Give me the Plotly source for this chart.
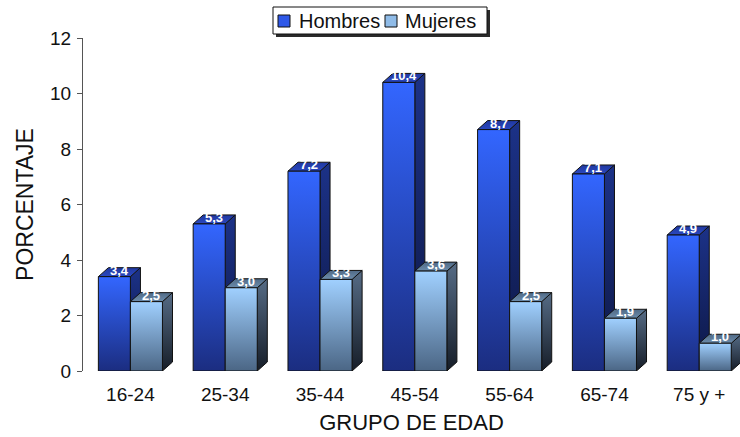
import plotly.graph_objects as go

# Porcentaje por grupo de edad y sexo
grupos = ["16-24", "25-34", "35-44", "45-54", "55-64", "65-74", "75 y +"]
hombres = [3.4, 5.3, 7.2, 10.4, 8.7, 7.1, 4.9]
mujeres = [2.5, 3.0, 3.3, 3.6, 2.5, 1.9, 1.0]
y_ticks = [0, 2, 4, 6, 8, 10, 12]
series = ["Hombres", "Mujeres"]

# pseudo-3D bar geometry (in axis units)
W = 0.338    # bar front width
DX = 0.106   # depth offset along x
DY = 0.324   # depth offset along y

styles = {
    "Hombres": dict(
        front=[[0, "#1b2d80"], [1, "#3366ff"]],
        side=[[0, "#0d1744"], [1, "#1c3288"]],
        top=[[0, "#2a48c0"], [1, "#2038a0"]],
        legend="#2e58e8",
    ),
    "Mujeres": dict(
        front=[[0, "#4b6685"], [1, "#a0d0ff"]],
        side=[[0, "#161d28"], [1, "#566c86"]],
        top=[[0, "#6c8cab"], [1, "#506a86"]],
        legend="#90bce8",
    ),
}

OUTLINE = dict(color="#111111", width=1)
FONT = "Liberation Sans, Arial"

fig = go.Figure()


def face(xs, ys, scale):
    fig.add_trace(go.Scatter(
        x=xs, y=ys, mode="lines", fill="toself",
        fillgradient=dict(type="vertical", colorscale=scale),
        line=OUTLINE, hoverinfo="skip", showlegend=False,
    ))


def draw_bar(x0, v, st):
    x1 = x0 + W
    # side face
    face([x1, x1 + DX, x1 + DX, x1, x1], [0, DY, v + DY, v, 0], st["side"])
    # top face
    face([x0, x1, x1 + DX, x0 + DX, x0], [v, v, v + DY, v + DY, v], st["top"])
    # front face
    face([x0, x1, x1, x0, x0], [0, 0, v, v, 0], st["front"])


labels = []
for i, (h, m) in enumerate(zip(hombres, mujeres)):
    draw_bar(i - W, h, styles["Hombres"])
    draw_bar(i, m, styles["Mujeres"])
    labels.append((i - W / 2 + DX / 2, h))
    labels.append((i + W / 2 + DX / 2, m))

for x, v in labels:
    fig.add_annotation(
        x=x, y=v + DY / 2, text=f"{v:.1f}".replace(".", ","),
        showarrow=False, yanchor="middle", yshift=2,
        font=dict(family=FONT, size=13, color="white", weight="bold"),
    )

# plot area in pixels
L, T = 83, 38
PW, PH = 657, 333


def px(xp):
    return (xp - L) / PW


def py(yp):
    return (T + PH - yp) / PH


# boxed legend with drop shadow
fig.add_shape(type="rect", xref="paper", yref="paper",
              x0=px(276), x1=px(490), y0=py(37), y1=py(10),
              fillcolor="#2a2a2a", line=dict(width=0))
fig.add_shape(type="rect", xref="paper", yref="paper",
              x0=px(273), x1=px(487), y0=py(34), y1=py(7),
              fillcolor="white", line=dict(color="#111111", width=1))
legend_items = [(series[0], 278, 297), (series[1], 385, 403)]
for name, sx, tx in legend_items:
    fig.add_shape(type="rect", xref="paper", yref="paper",
                  x0=px(sx), x1=px(sx + 12), y0=py(27), y1=py(15),
                  fillcolor=styles[name]["legend"],
                  line=dict(color="#111111", width=1))
    fig.add_annotation(
        xref="paper", yref="paper", x=px(tx), y=py(21),
        xanchor="left", yanchor="middle", text=name, showarrow=False,
        font=dict(family=FONT, size=20, color="#111111"),
    )

fig.update_layout(
    width=740, height=437,
    margin=dict(l=L, r=0, t=T, b=437 - T - PH, autoexpand=False),
    paper_bgcolor="white", plot_bgcolor="white",
    font=dict(family=FONT, color="#111111"),
    showlegend=False,
    xaxis=dict(
        range=[-0.5, 6.43], showgrid=False, zeroline=False, showline=False,
        tickvals=list(range(len(grupos))), ticktext=grupos, ticks="",
        tickfont=dict(size=19), ticklabelstandoff=10,
        title=dict(text="GRUPO DE EDAD", font=dict(size=22), standoff=10),
        fixedrange=True,
    ),
    yaxis=dict(
        range=[0, 12], tickvals=y_ticks, showgrid=False, zeroline=False,
        showline=True, linecolor="#555555", linewidth=1,
        ticks="outside", ticklen=5, tickcolor="#555555",
        tickfont=dict(size=19), ticklabelstandoff=2,
        title=dict(text="PORCENTAJE", font=dict(size=23), standoff=10),
        fixedrange=True,
    ),
)

fig.write_html("out.html")
